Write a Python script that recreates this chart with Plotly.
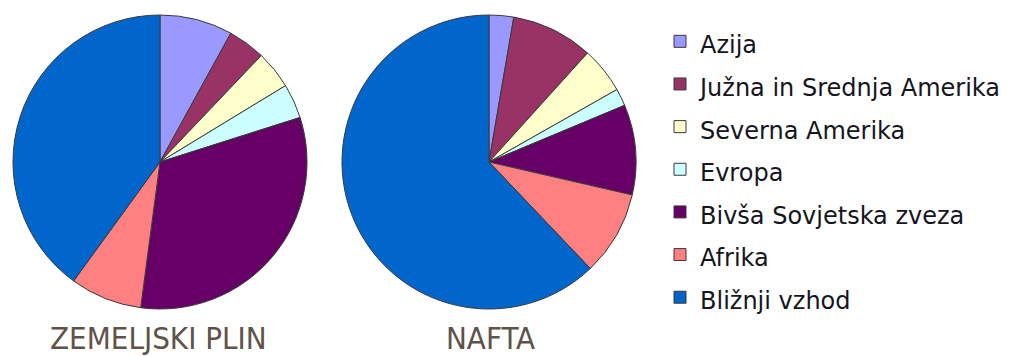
import plotly.graph_objects as go

# Regions (legend order) and their fill colours
regions = [
    "Azija",
    "Južna in Srednja Amerika",
    "Severna Amerika",
    "Evropa",
    "Bivša Sovjetska zveza",
    "Afrika",
    "Bližnji vzhod",
]
colors = ["#9999FF", "#993366", "#FFFFCC", "#CCFFFF", "#660066", "#FF8080", "#0066CC"]

# Share of world reserves (%)
gas_share = [8.0, 4.1, 4.2, 3.8, 32.0, 7.9, 40.0]
oil_share = [2.7, 9.0, 5.1, 1.9, 9.9, 9.3, 62.1]

titles = ["ZEMELJSKI PLIN", "NAFTA"]

W, H = 1010, 356


def px_x(v):
    return v / W


def px_y(v):
    return 1 - v / H


def pie(values, cx, cy, r, show_legend):
    return go.Pie(
        labels=[f'<span style="font-size:24px">{t}</span>' for t in regions],
        values=values,
        sort=False,
        direction="clockwise",
        rotation=0,
        marker=dict(colors=colors, line=dict(color="#3a3a3a", width=1)),
        textinfo="none",
        showlegend=show_legend,
        domain=dict(x=[px_x(cx - r), px_x(cx + r)], y=[px_y(cy + r), px_y(cy - r)]),
    )


fig = go.Figure()
fig.add_trace(pie(gas_share, 160, 162, 147, True))
fig.add_trace(pie(oil_share, 489, 162, 147, False))

for t, cx in zip(titles, [158, 490]):
    fig.add_annotation(
        text=t, x=px_x(cx), y=px_y(338), xref="paper", yref="paper",
        xanchor="center", yanchor="middle", showarrow=False,
        font=dict(family="DejaVu Sans Condensed, Liberation Sans Narrow, Roboto, sans-serif",
                  size=31, color="#5e5249"),
    )

fig.update_layout(
    width=W, height=H,
    margin=dict(l=0, r=0, t=0, b=0),
    paper_bgcolor="white",
    plot_bgcolor="white",
    legend=dict(
        x=px_x(660), y=px_y(15), xanchor="left", yanchor="top",
        font=dict(family="DejaVu Sans, sans-serif", size=30.5, color="#151520"),
        itemwidth=30,
        bgcolor="rgba(0,0,0,0)",
    ),
)

fig.write_html("out.html")
